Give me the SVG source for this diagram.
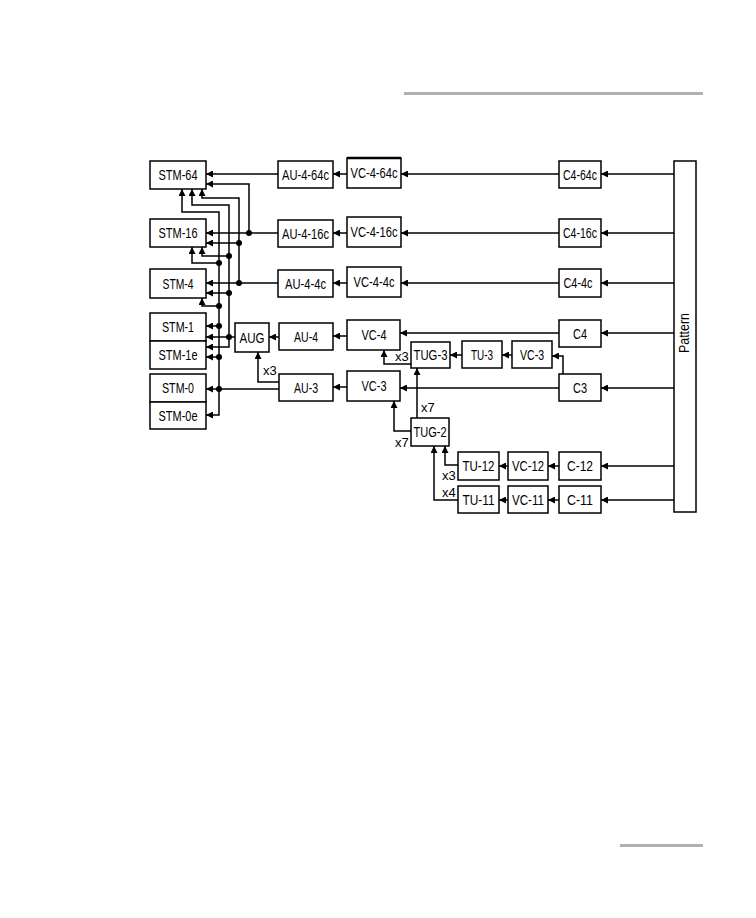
<svg xmlns="http://www.w3.org/2000/svg" width="756" height="918" viewBox="0 0 756 918">
<defs>
<marker id="ah" markerUnits="userSpaceOnUse" markerWidth="8" markerHeight="7" refX="7" refY="3.5" orient="auto">
<path d="M0,0 L7,3.5 L0,7 z" fill="#000"/>
</marker>
<style>
.box{fill:#fff;stroke:#000;stroke-width:1.5}
.t{font-family:"Liberation Sans",Arial,sans-serif;font-size:14px;fill:#000;text-anchor:middle}
.s{font-family:"Liberation Sans",Arial,sans-serif;font-size:13px;fill:#000}
.c{fill:none;stroke:#000;stroke-width:1.5}
.a{fill:none;stroke:#000;stroke-width:1.5;marker-end:url(#ah)}
.d{fill:#000}
.rule{stroke:#b0b0b0;stroke-width:3}
</style>
</defs>
<rect width="756" height="918" fill="#fff"/>
<line class="rule" x1="404" y1="93.5" x2="703" y2="93.5"/>
<line class="rule" x1="620" y1="845.5" x2="703" y2="845.5"/>

<g id="connectors">
<!-- Pattern feeds -->
<path class="a" d="M674,174 H601"/>
<path class="a" d="M674,233 H601"/>
<path class="a" d="M674,283 H601"/>
<path class="a" d="M674,333 H601"/>
<path class="a" d="M674,388 H601"/>
<path class="a" d="M674,466 H601"/>
<path class="a" d="M674,500 H601"/>
<!-- C4-xc to VC -->
<path class="a" d="M559,174 H401"/>
<path class="a" d="M559,233 H401"/>
<path class="a" d="M559,283 H401"/>
<path class="a" d="M347,174 H333"/>
<path class="a" d="M347,233 H333"/>
<path class="a" d="M347,283 H333"/>
<!-- C4/C3 -->
<path class="a" d="M559,333 H400"/>
<path class="a" d="M559,388 H400"/>
<path class="a" d="M563,374 V356 H552"/>
<path class="a" d="M512,355 H502"/>
<path class="a" d="M462,355 H450"/>
<path class="a" d="M411,364 H384 V350"/>
<path class="a" d="M417,418 V368"/>
<path class="a" d="M411,431 H394 V401"/>
<path class="a" d="M347,336 H333"/>
<path class="a" d="M347,387 H333"/>
<path class="a" d="M279,337 H269"/>
<path class="a" d="M279,382 H258 V352"/>
<!-- lower tributaries -->
<path class="a" d="M559,466 H548"/>
<path class="a" d="M508,466 H499"/>
<path class="a" d="M559,500 H548"/>
<path class="a" d="M508,500 H499"/>
<path class="a" d="M458,465 H445 V446"/>
<path class="a" d="M458,500 H434 V446"/>
<!-- AU-4-64c -->
<path class="a" d="M278,174 H206"/>
<!-- AU-4-16c -->
<path class="a" d="M278,233 H206"/>
<path class="a" d="M249,233 V184 H206"/>
<circle class="d" cx="249" cy="233" r="3"/>
<!-- AU-4-4c bus x=239 -->
<path class="a" d="M278,283 H206"/>
<path class="a" d="M239,283 V198 H202 V189"/>
<path class="a" d="M239,243 H206"/>
<circle class="d" cx="239" cy="283" r="3"/>
<circle class="d" cx="239" cy="243" r="3"/>
<!-- AUG bus x=229 -->
<path class="a" d="M235,337 H206"/>
<path class="a" d="M229,337 V205 H192 V189"/>
<path class="a" d="M229,337 V347 H206"/>
<path class="a" d="M229,256 H202 V247"/>
<path class="a" d="M229,293 H206"/>
<circle class="d" cx="229" cy="337" r="3"/>
<circle class="d" cx="229" cy="256" r="3"/>
<circle class="d" cx="229" cy="293" r="3"/>
<!-- AU-3 bus x=219 -->
<path class="a" d="M279,389 H206"/>
<path class="a" d="M219,389 V212 H182 V189"/>
<path class="a" d="M219,389 V415 H206"/>
<path class="a" d="M219,263 H192 V247"/>
<path class="a" d="M219,306 H202 V298"/>
<path class="a" d="M219,326 H206"/>
<path class="a" d="M219,357 H206"/>
<circle class="d" cx="219" cy="389" r="3"/>
<circle class="d" cx="219" cy="263" r="3"/>
<circle class="d" cx="219" cy="306" r="3"/>
<circle class="d" cx="219" cy="326" r="3"/>
<circle class="d" cx="219" cy="357" r="3"/>
<!-- multiplex labels -->
<text class="s" x="263" y="375">x3</text>
<text class="s" x="395" y="361">x3</text>
<text class="s" x="421" y="412">x7</text>
<text class="s" x="395" y="447">x7</text>
<text class="s" x="442" y="480">x3</text>
<text class="s" x="442" y="497">x4</text>
</g>

<g id="stm64"><rect class="box" x="150" y="161" width="56" height="28"/><text class="t" x="178" y="180" textLength="39" lengthAdjust="spacingAndGlyphs">STM-64</text></g>
<g id="stm16"><rect class="box" x="150" y="219" width="56" height="28"/><text class="t" x="178" y="238" textLength="39" lengthAdjust="spacingAndGlyphs">STM-16</text></g>
<g id="stm4"><rect class="box" x="150" y="269" width="56" height="29"/><text class="t" x="178" y="288.5" textLength="31" lengthAdjust="spacingAndGlyphs">STM-4</text></g>
<g id="stm1"><rect class="box" x="150" y="313" width="56" height="28"/><text class="t" x="178" y="332" textLength="32" lengthAdjust="spacingAndGlyphs">STM-1</text></g>
<g id="stm1e"><rect class="box" x="150" y="341" width="56" height="28"/><text class="t" x="178" y="360" textLength="39" lengthAdjust="spacingAndGlyphs">STM-1e</text></g>
<g id="stm0"><rect class="box" x="150" y="374" width="56" height="28"/><text class="t" x="178" y="393" textLength="32" lengthAdjust="spacingAndGlyphs">STM-0</text></g>
<g id="stm0e"><rect class="box" x="150" y="402" width="56" height="27"/><text class="t" x="178" y="420.5" textLength="39" lengthAdjust="spacingAndGlyphs">STM-0e</text></g>
<g id="aug"><rect class="box" x="235" y="323" width="34" height="29"/><text class="t" x="252" y="342.5" textLength="25" lengthAdjust="spacingAndGlyphs">AUG</text></g>

<g id="au4-64c"><rect class="box" x="278" y="161" width="55" height="27"/><text class="t" x="305.5" y="179.5" textLength="47" lengthAdjust="spacingAndGlyphs">AU-4-64c</text></g>
<g id="vc4-64c"><rect class="box" x="347" y="158" width="54" height="30"/><line x1="347" y1="158" x2="401" y2="158" stroke="#000" stroke-width="2.5"/><text class="t" x="374" y="178" textLength="47" lengthAdjust="spacingAndGlyphs">VC-4-64c</text></g>
<g id="au4-16c"><rect class="box" x="278" y="220" width="55" height="27"/><text class="t" x="305.5" y="238.5" textLength="47" lengthAdjust="spacingAndGlyphs">AU-4-16c</text></g>
<g id="vc4-16c"><rect class="box" x="347" y="217" width="54" height="30"/><text class="t" x="374" y="237" textLength="47" lengthAdjust="spacingAndGlyphs">VC-4-16c</text></g>
<g id="au4-4c"><rect class="box" x="278" y="270" width="55" height="27"/><text class="t" x="305.5" y="288.5" textLength="41" lengthAdjust="spacingAndGlyphs">AU-4-4c</text></g>
<g id="vc4-4c"><rect class="box" x="347" y="267" width="54" height="30"/><text class="t" x="374" y="287" textLength="41" lengthAdjust="spacingAndGlyphs">VC-4-4c</text></g>

<g id="c4-64c"><rect class="box" x="559" y="161" width="42" height="27"/><text class="t" x="580" y="179.5" textLength="34" lengthAdjust="spacingAndGlyphs">C4-64c</text></g>
<g id="c4-16c"><rect class="box" x="559" y="219" width="42" height="28"/><text class="t" x="580" y="238" textLength="34" lengthAdjust="spacingAndGlyphs">C4-16c</text></g>
<g id="c4-4c"><rect class="box" x="559" y="269" width="42" height="28"/><text class="t" x="578" y="288" textLength="29" lengthAdjust="spacingAndGlyphs">C4-4c</text></g>

<g id="au4"><rect class="box" x="279" y="323" width="54" height="27"/><text class="t" x="306" y="341.5" textLength="24" lengthAdjust="spacingAndGlyphs">AU-4</text></g>
<g id="vc4"><rect class="box" x="347" y="320" width="53" height="30"/><text class="t" x="374" y="340" textLength="25" lengthAdjust="spacingAndGlyphs">VC-4</text></g>
<g id="tug3"><rect class="box" x="411" y="342" width="39" height="26"/><text class="t" x="430.5" y="360" textLength="34" lengthAdjust="spacingAndGlyphs">TUG-3</text></g>
<g id="tu3"><rect class="box" x="462" y="341" width="40" height="27"/><text class="t" x="482" y="359.5" textLength="22" lengthAdjust="spacingAndGlyphs">TU-3</text></g>
<g id="vc3b"><rect class="box" x="512" y="341" width="40" height="27"/><text class="t" x="532" y="359.5" textLength="24" lengthAdjust="spacingAndGlyphs">VC-3</text></g>
<g id="c4"><rect class="box" x="559" y="320" width="42" height="27"/><text class="t" x="580" y="338.5" textLength="14" lengthAdjust="spacingAndGlyphs">C4</text></g>
<g id="c3"><rect class="box" x="559" y="374" width="42" height="27"/><text class="t" x="580" y="392.5" textLength="14" lengthAdjust="spacingAndGlyphs">C3</text></g>
<g id="au3"><rect class="box" x="279" y="374" width="54" height="27"/><text class="t" x="306" y="392.5" textLength="24" lengthAdjust="spacingAndGlyphs">AU-3</text></g>
<g id="vc3"><rect class="box" x="347" y="371" width="53" height="30"/><text class="t" x="374" y="391" textLength="25" lengthAdjust="spacingAndGlyphs">VC-3</text></g>
<g id="tug2"><rect class="box" x="411" y="418" width="38" height="28"/><text class="t" x="430" y="437" textLength="33" lengthAdjust="spacingAndGlyphs">TUG-2</text></g>

<g id="tu12"><rect class="box" x="458" y="452" width="41" height="28"/><text class="t" x="478.5" y="471" textLength="32" lengthAdjust="spacingAndGlyphs">TU-12</text></g>
<g id="vc12"><rect class="box" x="508" y="452" width="40" height="28"/><text class="t" x="528" y="471" textLength="32" lengthAdjust="spacingAndGlyphs">VC-12</text></g>
<g id="c12"><rect class="box" x="559" y="452" width="42" height="28"/><text class="t" x="580" y="471" textLength="26" lengthAdjust="spacingAndGlyphs">C-12</text></g>
<g id="tu11"><rect class="box" x="458" y="486" width="41" height="27"/><text class="t" x="478.5" y="504.5" textLength="32" lengthAdjust="spacingAndGlyphs">TU-11</text></g>
<g id="vc11"><rect class="box" x="508" y="486" width="40" height="27"/><text class="t" x="528" y="504.5" textLength="32" lengthAdjust="spacingAndGlyphs">VC-11</text></g>
<g id="c11"><rect class="box" x="559" y="486" width="42" height="27"/><text class="t" x="580" y="504.5" textLength="26" lengthAdjust="spacingAndGlyphs">C-11</text></g>

<g id="pattern"><rect class="box" x="674" y="161" width="22" height="351"/><text class="t" transform="translate(689,333) rotate(-90)" x="0" y="0" textLength="40" lengthAdjust="spacingAndGlyphs">Pattern</text></g>
</svg>
